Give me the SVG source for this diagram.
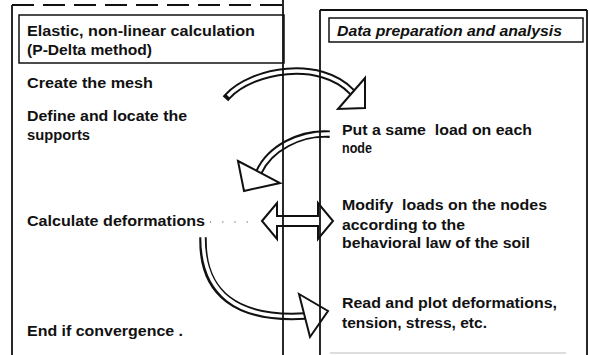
<svg xmlns="http://www.w3.org/2000/svg" width="589" height="355" viewBox="0 0 589 355">
<defs>
<style>
.t{font-family:"Liberation Sans",Arial,sans-serif;font-weight:bold;font-size:14.5px;fill:#111;white-space:pre}
.ti{font-style:italic}
.panel{fill:none;stroke:#111;stroke-width:1.8}
.box{fill:none;stroke:#111;stroke-width:1.5}
.bo{fill:none;stroke:#111;stroke-width:7.5;stroke-linecap:square}
.bi{fill:none;stroke:#fff;stroke-width:3.5;stroke-linecap:butt}
.head{fill:#fff;stroke:#111;stroke-width:2;stroke-linejoin:miter}
.dots{stroke:#555;stroke-width:1.2;stroke-dasharray:1.2,11}
</style>
</defs>
<rect width="589" height="355" fill="#fff"/>
<g id="connectors">
<path class="bo" d="M228,96 C252,70 320,58 352,92"/>
<path class="bi" d="M228,96 C252,70 320,58 352,92"/>
<polygon class="head" points="365,78 365,108 338,109"/>
<path class="bo" d="M326,134 C300,133 270,148 259,172"/>
<path class="bi" d="M330,134 C300,133 270,148 259,172"/>
<polygon class="head" points="238,161 280,183 244,191"/>
<polygon class="head" points="262,221 277,203 277,216 318,216 318,203 333,221 318,239 318,226 277,226 277,239"/>
<path class="bo" d="M203,241 C203,293 236,320 305,316"/>
<path class="bi" d="M203,237 C203,293 236,320 305,316"/>
<polygon class="head" points="299,294 328,311 310,337"/>
<line class="dots" x1="210" y1="222" x2="258" y2="222"/>
</g>
<g id="left-panel">
<line class="panel" x1="12" y1="5" x2="12" y2="355"/>
<line class="panel" x1="12" y1="5" x2="283" y2="5" stroke-dasharray="22,9"/>
<line class="panel" x1="283" y1="0" x2="283" y2="355"/>
</g>
<g id="right-panel">
<line class="panel" x1="320" y1="10" x2="320" y2="355"/>
<line class="panel" x1="320" y1="10" x2="587" y2="10"/>
<line class="panel" x1="587" y1="10" x2="587" y2="355"/>
<line x1="330" y1="353" x2="566" y2="353" stroke="#bbb" stroke-width="1.2"/>
</g>
<g id="header-left">
<rect class="box" x="19" y="15" width="265" height="48"/>
<text class="t" x="27" y="36" textLength="228" lengthAdjust="spacingAndGlyphs">Elastic, non-linear calculation</text>
<text class="t" x="27" y="55" textLength="125" lengthAdjust="spacingAndGlyphs">(P-Delta method)</text>
</g>
<g id="header-right">
<rect class="box" x="329" y="18" width="254" height="24"/>
<text class="t ti" x="337" y="36" textLength="225" lengthAdjust="spacingAndGlyphs">Data preparation and analysis</text>
</g>
<g id="create-mesh"><text class="t" x="27" y="88" textLength="126" lengthAdjust="spacingAndGlyphs">Create the mesh</text></g>
<g id="define-supports">
<text class="t" x="27" y="121" textLength="160" lengthAdjust="spacingAndGlyphs">Define and locate the</text>
<text class="t" x="27" y="140" textLength="63" lengthAdjust="spacingAndGlyphs">supports</text>
</g>
<g id="calc-deformations"><text class="t" x="27" y="226" textLength="178" lengthAdjust="spacingAndGlyphs">Calculate deformations</text></g>
<g id="end-convergence"><text class="t" x="27" y="336" textLength="156" lengthAdjust="spacingAndGlyphs">End if convergence .</text></g>
<g id="put-load">
<text class="t" x="342" y="135" textLength="190" lengthAdjust="spacingAndGlyphs">Put a same  load on each</text>
<text class="t" x="342" y="153" textLength="30" lengthAdjust="spacingAndGlyphs">node</text>
</g>
<g id="modify-loads">
<text class="t" x="342" y="210" textLength="205" lengthAdjust="spacingAndGlyphs">Modify  loads on the nodes</text>
<text class="t" x="342" y="230" textLength="123" lengthAdjust="spacingAndGlyphs">according to the</text>
<text class="t" x="342" y="248" textLength="188" lengthAdjust="spacingAndGlyphs">behavioral law of the soil</text>
</g>
<g id="read-plot">
<text class="t" x="342" y="308" textLength="215" lengthAdjust="spacingAndGlyphs">Read and plot deformations,</text>
<text class="t" x="342" y="328" textLength="145" lengthAdjust="spacingAndGlyphs">tension, stress, etc.</text>
</g>
</svg>
